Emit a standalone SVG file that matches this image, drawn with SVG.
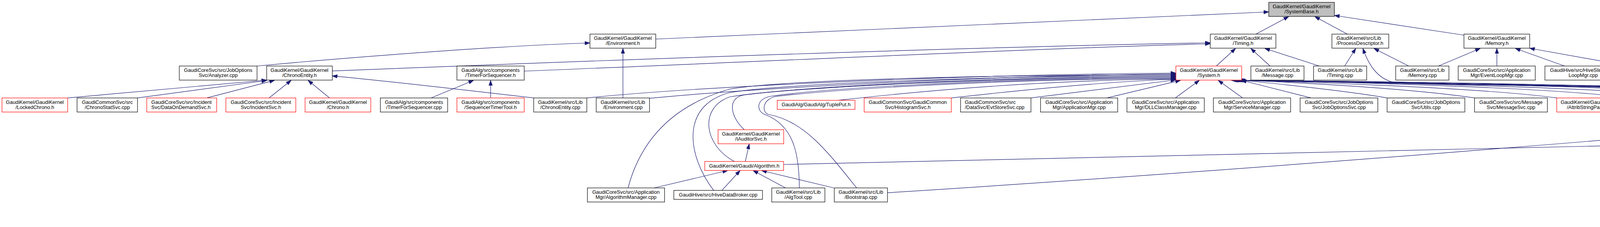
<svg xmlns="http://www.w3.org/2000/svg" width="5603" height="581" viewBox="0 0 5603 581">
<style>
.n rect{fill:#fff;stroke:#000;stroke-width:1.2}
.n.r rect{stroke:#f00}
.n.top rect{fill:#bfbfbf}
text{font-family:"Liberation Sans",Arial,Helvetica,sans-serif;font-size:13px;fill:#000;text-anchor:middle}
text.l{text-anchor:start}
.e path{fill:none;stroke:#191970;stroke-width:1.2;marker-end:url(#ah)}
</style>
<defs>
<marker id="ah" markerWidth="14" markerHeight="10" refX="13" refY="5" orient="auto" markerUnits="userSpaceOnUse">
<path d="M0,0.5 L13,5 L0,9.5 z" fill="#191970" stroke="#191970" stroke-width="1"/>
</marker>
</defs>
<rect width="5603" height="581" fill="#fff"/>

<g id="edges" class="e">
<!-- into SystemBase.h -->
<path d="M1678.7,100 L3248,30.5"/>
<path d="M3215.3,87.3 L3299,42.5"/>
<path d="M3449,87.3 L3366,42.5"/>
<path d="M3747.7,90 L3416.3,39.5"/>
<!-- into Environment.h -->
<path d="M658,169 C900,146 1300,116 1510,110"/>
<path d="M1594.7,250.7 L1594.7,123.8"/>
<!-- into Timing.h -->
<path d="M850.7,181.7 C1600,152 2500,120 3098,109.5"/>
<path d="M1342,182 C1900,160 2600,126 3098,112"/>
<path d="M3113.7,169 L3163,124"/>
<path d="M3251.3,169 L3202,124"/>
<path d="M3377.3,169 L3238,124"/>
<!-- into ProcessDescriptor.h -->
<path d="M3442.3,169 L3470.7,124"/>
<path d="M3606.3,169 L3517.3,124"/>
<path d="M5437.7,250.7 C5000,228 4000,222 3575,212 C3530,206 3505,170 3489,124"/>
<!-- into Memory.h -->
<path d="M3682.3,169 L3789.3,124"/>
<path d="M3832,169 L3832,124"/>
<path d="M4005.3,169 L3879.3,124"/>
<path d="M4176,170 L3916,123.5"/>
<!-- into ChronoEntity.h -->
<path d="M173.3,250.7 L682.7,205"/>
<path d="M352,250.7 L682.7,206"/>
<path d="M529.3,250.7 L702.7,205.7"/>
<path d="M688.7,250.7 L745.3,205.7"/>
<path d="M843.7,250.7 L788.7,205.7"/>
<path d="M1366.3,250.7 C1100,220 950,203 850.7,194.3"/>
<!-- into TimerForSequencer.h -->
<path d="M1103.3,250.7 L1212.3,205.7"/>
<path d="M1256,250.7 L1256,205.7"/>
<!-- into System.h from the left -->
<path d="M1502.3,250.7 C1800,220 2500,190 3010,187"/>
<path d="M1662.7,251.7 C1900,228 2500,194 3010,189"/>
<path d="M1607.7,481 C1640,360 1720,270 1868,228 C2000,205 2500,192 3010,191"/>
<path d="M1827,487.3 C1760,400 1740,270 1868,237 C2000,215 2500,195 3010,193"/>
<path d="M1880,413.3 C1800,370 1790,275 1868,248 C2000,225 2500,197 3010,195"/>
<path d="M1905.3,332 C1870,300 1860,250 1905,243 C2050,225 2500,199 3010,197"/>
<path d="M2046.3,481 C2046,390 2030,320 1958,293 C1935,284 1935,252 1975,246 C2100,228 2500,201 3010,199"/>
<path d="M2193,481 C2120,390 2060,310 1968,293 C1950,289 1950,255 1985,247 C2110,232 2500,203 3010,201"/>
<path d="M2146,256.7 C2400,228 2700,205 3010,202"/>
<path d="M2435.3,250.7 C2600,232 2850,207 3010,203"/>
<path d="M2639.3,250.7 L3010,204.5"/>
<path d="M2833.7,250.7 L3022,205.7"/>
<path d="M3008.7,250.7 L3070.3,205.7"/>
<path d="M3181.3,250.7 L3118.7,205.7"/>
<!-- into System.h from the right -->
<path d="M3356.3,250.7 L3178,205.5"/>
<path d="M3551,250.7 C3450,233 3250,212 3176,205.5"/>
<path d="M3774.7,250.7 C3600,225 3300,210 3174,205.5"/>
<path d="M3985.3,250.7 C3800,225 3350,210 3172,205.5"/>
<path d="M4177,250.7 C3950,222 3400,209 3170,205.5"/>
<path d="M4369,250.7 C4100,222 3450,209 3168,205.5"/>
<path d="M4561.7,250.7 C4250,222 3500,208 3166,205.5"/>
<path d="M4725.7,250.7 C4400,222 3550,208 3164,205.5"/>
<path d="M5007.7,250.7 C4600,225 3600,208 3162,205.5"/>
<path d="M5437.7,250.7 C5000,238 3700,210 3160,205.5"/>
<path d="M5125,332 C5190,300 5210,260 5180,248 C4700,235 3700,212 3158,205.5"/>
<path d="M5273.7,332 C5255,290 5235,255 5204,247 C4700,236 3700,212 3156,205.5"/>
<path d="M5288.7,487.3 C5360,430 5395,370 5375,325 C5355,285 5300,250 5237,243.3 C4700,232 3700,212 3154,205.5"/>
<path d="M5073.3,413.3 C4980,380 4965,300 4963,262 C4960,250 4950,245 4930,243.3 C4600,232 3700,212 3152,205.5"/>
<!-- lower right cluster -->
<path d="M5087.7,332 L5090,287"/>
<path d="M5238.7,332 L5140,287"/>
<path d="M5115,413.3 L5095,369"/>
<path d="M5252,487.3 L5145,436.5"/>
<path d="M5273.7,487.3 C5272,440 5240,400 5170,369"/>
<path d="M2006,421 C3000,400 4000,375 5002,353"/>
<path d="M2272,493.3 C3200,435 4300,345 5007.7,281"/>
<!-- into Algorithm.h and IAuditorSvc.h -->
<path d="M1908,413.3 L1918,368.5"/>
<path d="M1674.3,481 L1862.7,436.5"/>
<path d="M1848,487.3 L1894.7,436.5"/>
<path d="M2011,481 L1928,436.5"/>
<path d="M2134.7,481 L1949.7,436.5"/>
</g>

<!-- row 0 -->
<g id="n_SystemBase" class="n top"><rect x="3248" y="6" width="168" height="36"/><text x="3332" y="21">GaudiKernel/GaudiKernel<tspan x="3332" y="34">/SystemBase.h</tspan></text></g>
<!-- row 1 -->
<g id="n_Environment_h" class="n"><rect x="1510.3" y="87.3" width="168.4" height="36"/><text x="1594.5" y="102.3">GaudiKernel/GaudiKernel<tspan x="1594.5" y="115.3">/Environment.h</tspan></text></g>
<g id="n_Timing_h" class="n"><rect x="3098.3" y="87.3" width="168" height="36"/><text x="3182.3" y="102.3">GaudiKernel/GaudiKernel<tspan x="3182.3" y="115.3">/Timing.h</tspan></text></g>
<g id="n_ProcessDescriptor_h" class="n"><rect x="3409.7" y="87.3" width="145.6" height="36"/><text class="l" x="3421.3" y="102.3">GaudiKernel/src/Lib<tspan x="3421.3" y="115.3">/ProcessDescriptor.h</tspan></text></g>
<g id="n_Memory_h" class="n"><rect x="3747.7" y="87.3" width="168.3" height="36"/><text x="3831.8" y="102.3">GaudiKernel/GaudiKernel<tspan x="3831.8" y="115.3">/Memory.h</tspan></text></g>
<!-- row 2 -->
<g id="n_Analyzer" class="n"><rect x="459" y="169" width="199" height="36"/><text x="558.5" y="184">GaudiCoreSvc/src/JobOptions<tspan x="558.5" y="197">Svc/Analyzer.cpp</tspan></text></g>
<g id="n_ChronoEntity_h" class="n"><rect x="682.7" y="169" width="168" height="36"/><text x="766.7" y="184">GaudiKernel/GaudiKernel<tspan x="766.7" y="197">/ChronoEntity.h</tspan></text></g>
<g id="n_TimerForSequencer_h" class="n"><rect x="1169.7" y="169" width="172.3" height="36"/><text x="1255.8" y="184">GaudiAlg/src/components<tspan x="1255.8" y="197">/TimerForSequencer.h</tspan></text></g>
<g id="n_System_h" class="n r"><rect x="3010.3" y="169" width="168.4" height="36"/><text x="3094.5" y="184">GaudiKernel/GaudiKernel<tspan x="3094.5" y="197">/System.h</tspan></text></g>
<g id="n_Message_cpp" class="n"><rect x="3202.3" y="169" width="136" height="36"/><text x="3270.3" y="184">GaudiKernel/src/Lib<tspan x="3270.3" y="197">/Message.cpp</tspan></text></g>
<g id="n_Timing_cpp" class="n"><rect x="3362.7" y="169" width="136" height="36"/><text x="3430.7" y="184">GaudiKernel/src/Lib<tspan x="3430.7" y="197">/Timing.cpp</tspan></text></g>
<g id="n_Memory_cpp" class="n"><rect x="3573" y="169" width="136.3" height="36"/><text x="3641.2" y="184">GaudiKernel/src/Lib<tspan x="3641.2" y="197">/Memory.cpp</tspan></text></g>
<g id="n_EventLoopMgr" class="n"><rect x="3733" y="169" width="197.3" height="36"/><text x="3831.7" y="184">GaudiCoreSvc/src/Application<tspan x="3831.7" y="197">Mgr/EventLoopMgr.cpp</tspan></text></g>
<g id="n_HiveSlimEventLoopMgr" class="n"><rect x="3955" y="169" width="196" height="36"/><text x="4053" y="184">GaudiHive/src/HiveSlimEvent<tspan x="4053" y="197">LoopMgr.cpp</tspan></text></g>
<g id="n_StalledEventMonitor" class="n"><rect x="4176" y="169" width="173" height="36"/><text x="4262.5" y="184">GaudiUtils/src/component<tspan x="4262.5" y="197">/StalledEventMonitor.cpp</tspan></text></g>
<!-- row 3 -->
<g id="n_LockedChrono" class="n r"><rect x="5" y="250.7" width="168.3" height="36"/><text x="89.2" y="265.7">GaudiKernel/GaudiKernel<tspan x="89.2" y="278.7">/LockedChrono.h</tspan></text></g>
<g id="n_ChronoStatSvc" class="n"><rect x="197.3" y="250.7" width="154.7" height="36"/><text x="274.7" y="265.7">GaudiCommonSvc/src<tspan x="274.7" y="278.7">/ChronoStatSvc.cpp</tspan></text></g>
<g id="n_DataOnDemandSvc" class="n r"><rect x="375.7" y="250.7" width="179" height="36"/><text class="l" x="387.3" y="265.7">GaudiCoreSvc/src/Incident<tspan x="387.3" y="278.7">Svc/DataOnDemandSvc.h</tspan></text></g>
<g id="n_IncidentSvc" class="n r"><rect x="578.3" y="250.7" width="179" height="36"/><text x="667.8" y="265.7">GaudiCoreSvc/src/Incident<tspan x="667.8" y="278.7">Svc/IncidentSvc.h</tspan></text></g>
<g id="n_Chrono" class="n r"><rect x="781" y="250.7" width="168.3" height="36"/><text x="865.2" y="265.7">GaudiKernel/GaudiKernel<tspan x="865.2" y="278.7">/Chrono.h</tspan></text></g>
<g id="n_TimerForSequencer_cpp" class="n"><rect x="973.7" y="250.7" width="172.3" height="36"/><text x="1059.8" y="265.7">GaudiAlg/src/components<tspan x="1059.8" y="278.7">/TimerForSequencer.cpp</tspan></text></g>
<g id="n_SequencerTimerTool" class="n r"><rect x="1169.7" y="250.7" width="172.3" height="36"/><text x="1255.8" y="265.7">GaudiAlg/src/components<tspan x="1255.8" y="278.7">/SequencerTimerTool.h</tspan></text></g>
<g id="n_ChronoEntity_cpp" class="n"><rect x="1366.3" y="250.7" width="136" height="36"/><text x="1434.3" y="265.7">GaudiKernel/src/Lib<tspan x="1434.3" y="278.7">/ChronoEntity.cpp</tspan></text></g>
<g id="n_Environment_cpp" class="n"><rect x="1526.3" y="250.7" width="136.4" height="36"/><text x="1594.5" y="265.7">GaudiKernel/src/Lib<tspan x="1594.5" y="278.7">/Environment.cpp</tspan></text></g>
<g id="n_TuplePut" class="n r"><rect x="1989.7" y="256.7" width="199" height="23.3"/><text x="2089.2" y="271.7">GaudiAlg/GaudiAlg/TuplePut.h</text></g>
<g id="n_HistogramSvc" class="n r"><rect x="2212.3" y="250.7" width="223" height="36"/><text x="2323.8" y="265.7">GaudiCommonSvc/GaudiCommon<tspan x="2323.8" y="278.7">Svc/HistogramSvc.h</tspan></text></g>
<g id="n_EvtStoreSvc" class="n"><rect x="2459" y="250.7" width="180.3" height="36"/><text class="l" x="2470" y="265.7">GaudiCommonSvc/src<tspan x="2470" y="278.7">/DataSvc/EvtStoreSvc.cpp</tspan></text></g>
<g id="n_ApplicationMgr" class="n"><rect x="2663.7" y="250.7" width="197.6" height="36"/><text x="2762.5" y="265.7">GaudiCoreSvc/src/Application<tspan x="2762.5" y="278.7">Mgr/ApplicationMgr.cpp</tspan></text></g>
<g id="n_DLLClassManager" class="n"><rect x="2885" y="250.7" width="198" height="36"/><text x="2984" y="265.7">GaudiCoreSvc/src/Application<tspan x="2984" y="278.7">Mgr/DLLClassManager.cpp</tspan></text></g>
<g id="n_ServiceManager" class="n"><rect x="3106.3" y="250.7" width="197.7" height="36"/><text x="3205.2" y="265.7">GaudiCoreSvc/src/Application<tspan x="3205.2" y="278.7">Mgr/ServiceManager.cpp</tspan></text></g>
<g id="n_JobOptionsSvc" class="n"><rect x="3328.3" y="250.7" width="199" height="36"/><text x="3427.8" y="265.7">GaudiCoreSvc/src/JobOptions<tspan x="3427.8" y="278.7">Svc/JobOptionsSvc.cpp</tspan></text></g>
<g id="n_Utils" class="n"><rect x="3551" y="250.7" width="199" height="36"/><text x="3650.5" y="265.7">GaudiCoreSvc/src/JobOptions<tspan x="3650.5" y="278.7">Svc/Utils.cpp</tspan></text></g>
<g id="n_MessageSvc" class="n"><rect x="3774.7" y="250.7" width="186.6" height="36"/><text x="3868" y="265.7">GaudiCoreSvc/src/Message<tspan x="3868" y="278.7">Svc/MessageSvc.cpp</tspan></text></g>
<g id="n_AttribStringParser" class="n r"><rect x="3985.3" y="250.7" width="168" height="36"/><text x="4069.3" y="265.7">GaudiKernel/GaudiKernel<tspan x="4069.3" y="278.7">/AttribStringParser.h</tspan></text></g>
<g id="n_DllMain" class="n r"><rect x="4177" y="250.7" width="168.3" height="36"/><text x="4261.2" y="265.7">GaudiKernel/GaudiKernel<tspan x="4261.2" y="278.7">/DllMain.icpp</tspan></text></g>
<g id="n_NTupleItems" class="n r"><rect x="4369" y="250.7" width="168.3" height="36"/><text x="4453.2" y="265.7">GaudiKernel/GaudiKernel<tspan x="4453.2" y="278.7">/NTupleItems.h</tspan></text></g>
<g id="n_ConversionSvc" class="n"><rect x="4561.7" y="250.7" width="140" height="36"/><text class="l" x="4573.5" y="265.7">GaudiKernel/src/Lib<tspan x="4573.5" y="278.7">/ConversionSvc.cpp</tspan></text></g>
<g id="n_DataObjectHandleProperty" class="n"><rect x="4725.7" y="250.7" width="207" height="36"/><text class="l" x="4737.3" y="265.7">GaudiKernel/src/Lib<tspan x="4737.3" y="278.7">/DataObjectHandleProperty.cpp</tspan></text></g>
<g id="n_IInterface" class="n r"><rect x="5007.7" y="250.7" width="168.3" height="36"/><text x="5091.8" y="265.7">GaudiKernel/GaudiKernel<tspan x="5091.8" y="278.7">/IInterface.h</tspan></text></g>
<g id="n_ProcessDescriptor_cpp" class="n"><rect x="5437.7" y="250.7" width="158.6" height="36"/><text class="l" x="5449.3" y="265.7">GaudiKernel/src/Lib<tspan x="5449.3" y="278.7">/ProcessDescriptor.cpp</tspan></text></g>
<!-- row 4 -->
<g id="n_IAuditorSvc" class="n r"><rect x="1838.3" y="332" width="168" height="36"/><text x="1922.3" y="347">GaudiKernel/GaudiKernel<tspan x="1922.3" y="360">/IAuditorSvc.h</tspan></text></g>
<g id="n_IToolSvc" class="n r"><rect x="5002.3" y="332" width="168" height="36"/><text x="5086.3" y="347">GaudiKernel/GaudiKernel<tspan x="5086.3" y="360">/IToolSvc.h</tspan></text></g>
<g id="n_GaudiHandle" class="n r"><rect x="5194.3" y="332" width="168.4" height="36"/><text x="5278.5" y="347">GaudiKernel/GaudiKernel<tspan x="5278.5" y="360">/GaudiHandle.h</tspan></text></g>
<!-- row 5 -->
<g id="n_Algorithm" class="n r"><rect x="1804.3" y="413.3" width="201.7" height="23"/><text x="1905.2" y="428.5">GaudiKernel/Gaudi/Algorithm.h</text></g>
<g id="n_GaudiCommon_h" class="n r"><rect x="5002.3" y="413.3" width="234.7" height="23"/><text x="5119.7" y="428.5">GaudiAlg/GaudiAlg/GaudiCommon.h</text></g>
<!-- row 6 -->
<g id="n_AlgorithmManager" class="n"><rect x="1503.7" y="481" width="197.6" height="36"/><text x="1602.5" y="496">GaudiCoreSvc/src/Application<tspan x="1602.5" y="509">Mgr/AlgorithmManager.cpp</tspan></text></g>
<g id="n_HiveDataBroker" class="n"><rect x="1725" y="487.3" width="227" height="23"/><text x="1838.5" y="502.5">GaudiHive/src/HiveDataBroker.cpp</text></g>
<g id="n_AlgTool" class="n"><rect x="1975.7" y="481" width="136" height="36"/><text x="2043.7" y="496">GaudiKernel/src/Lib<tspan x="2043.7" y="509">/AlgTool.cpp</tspan></text></g>
<g id="n_Bootstrap" class="n"><rect x="2135.7" y="481" width="136.3" height="36"/><text x="2203.8" y="496">GaudiKernel/src/Lib<tspan x="2203.8" y="509">/Bootstrap.cpp</tspan></text></g>
<g id="n_GaudiCommon_icpp" class="n r"><rect x="5157.7" y="487.3" width="233.3" height="23"/><text x="5274.3" y="502.5">GaudiAlg/src/lib/GaudiCommon.icpp</text></g>
</svg>
